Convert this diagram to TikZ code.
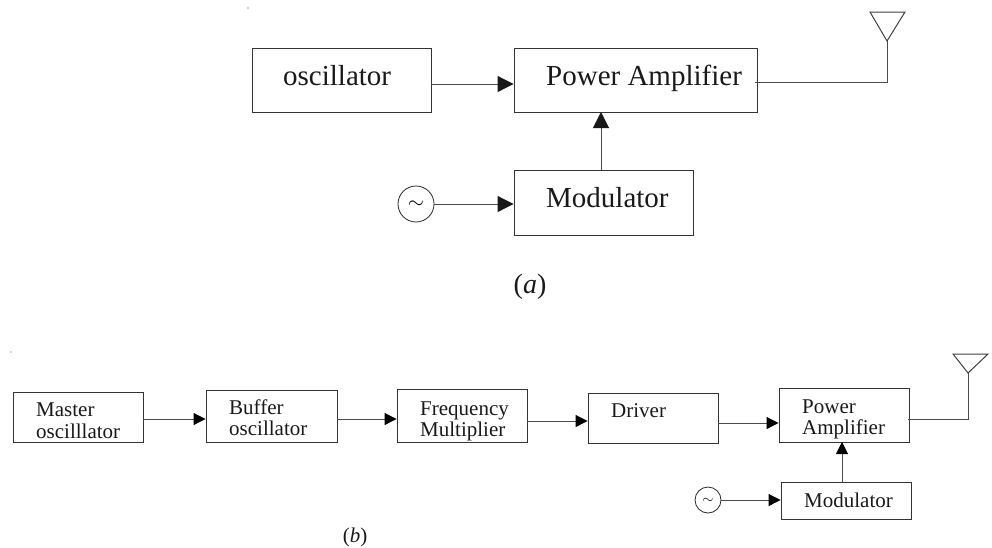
\documentclass[tikz,border=0pt]{standalone}
\usepackage{fontspec}
\setmainfont{Liberation Serif}
\usetikzlibrary{arrows.meta}
\tikzset{
  x=1pt,y=-1pt,
  blockbox/.style={draw=black!80,line width=.9pt,inner sep=0pt},
  bigtxt/.style={font=\fontsize{29}{34}\selectfont,anchor=base west,inner sep=0pt,text=black!90},
  smalltxt/.style={font=\fontsize{21}{21}\selectfont,anchor=base west,inner sep=0pt,text=black!90},
  wire/.style={draw=black!70,line width=1pt},
  bigarrow/.style={wire,-{Triangle[length=16pt,width=16pt,color=black!90]}},
  smallarrow/.style={wire,-{Triangle[length=12pt,width=12pt,color=black]}},
  srcbig/.style={circle,draw=black!85,line width=.8pt,minimum size=36pt,inner sep=0pt},
  srcsmall/.style={circle,draw=black!85,line width=.8pt,minimum size=26pt,inner sep=0pt},
  aerial/.style={draw=black!75,line width=1pt,line join=miter},
}
\newcommand{\blockat}[5]{\node[blockbox,minimum width=#4-#2,minimum height=#5-#3] (#1) at ({(#2+#4)/2},{(#3+#5)/2}) {};}
\begin{document}
\begin{tikzpicture}
\useasboundingbox (0,0) rectangle (992,547);
% (a)
\blockat{osc}{252}{48}{431}{112}
\blockat{pa}{514}{48}{757}{112}
\blockat{mod}{514}{170}{693}{235}
\node[bigtxt] (osct) at (283,85) {oscillator};
\node[bigtxt] (pat) at (546,85) {Power Amplifier};
\node[bigtxt] (modt) at (546,207) {Modulator};
\node[srcbig] (srca) at (416,204) {};
\node[font=\fontsize{22}{22}\selectfont,inner sep=0pt] (tilda) at (416,205) {$\sim$};
\draw[bigarrow] (osc.east |- 0,84) -- (pa.west |- 0,84);
\draw[bigarrow] (srca.east) -- (mod.west |- srca.east);
\draw[bigarrow] (601,170) -- (601,112);
\coordinate (aa) at (887,41);
\coordinate (al) at (870,12);
\coordinate (ar) at (905,12);
\draw[wire] (755,82) -| (aa);
\draw[aerial] (al) -- (ar) -- (aa) -- cycle;
\node[font=\fontsize{28}{34}\selectfont,inner sep=0pt,anchor=base,text=black!90] (capa) at (530,293) {(\textit{a})};
% (b)
\blockat{mast}{13}{392}{143}{442}
\blockat{buf}{206}{390}{337}{442}
\blockat{freq}{397}{389}{527}{442}
\blockat{drv}{588}{393}{718}{443}
\blockat{pb}{779}{388}{909}{442}
\blockat{mb}{781}{482}{911}{519}
\node[smalltxt] (mastt) at (36,416) {Master};
\node[smalltxt] (mastu) at (36,438) {oscilllator};
\node[smalltxt] (buft) at (229,414) {Buffer};
\node[smalltxt] (bufu) at (229,435) {oscillator};
\node[smalltxt] (freqt) at (420,415) {Frequency};
\node[smalltxt] (frequ) at (420,436) {Multiplier};
\node[smalltxt] (drvt) at (611,417) {Driver};
\node[smalltxt] (pbt) at (802,413) {Power};
\node[smalltxt] (pbu) at (802,434) {Amplifier};
\node[smalltxt] (mbt) at (804,507) {Modulator};
\node[srcsmall] (srcb) at (708,500) {};
\node[font=\fontsize{14}{14}\selectfont,inner sep=0pt] (tildb) at (708,501) {$\sim$};
\draw[smallarrow] (mast.east |- 0,419) -- (buf.west |- 0,419);
\draw[smallarrow] (buf.east |- 0,419) -- (freq.west |- 0,419);
\draw[smallarrow] (freq.east |- 0,421) -- (drv.west |- 0,421);
\draw[smallarrow] (drv.east |- 0,423) -- (pb.west |- 0,423);
\draw[smallarrow] (srcb.east) -- (mb.west |- srcb.east);
\draw[smallarrow] (842,482) -- (842,442);
\coordinate (ba) at (968,373);
\coordinate (bl) at (953,354);
\coordinate (br) at (988,354);
\draw[wire] (908,419) -| (ba);
\draw[aerial] (bl) -- (br) -- (ba) -- cycle;
\node[font=\fontsize{21}{21}\selectfont,inner sep=0pt,anchor=base,text=black!90] (capb) at (355,542) {(\textit{b})};
% specks
\fill[black!70] (248,8) circle (.6pt);
\fill[black!70] (11,352) circle (.6pt);
\end{tikzpicture}
\end{document}
